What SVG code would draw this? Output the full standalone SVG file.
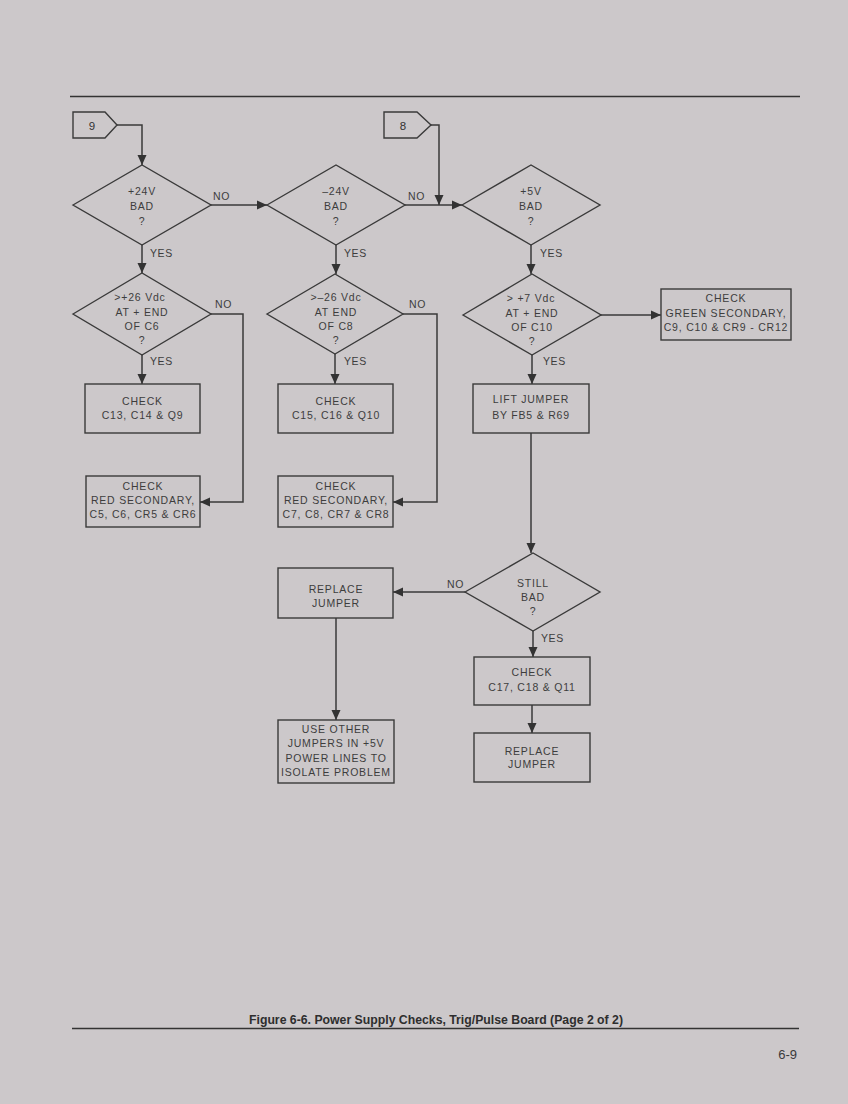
<svg xmlns="http://www.w3.org/2000/svg" width="848" height="1104" viewBox="0 0 848 1104">
<defs>
<marker id="ah" viewBox="0 0 10 10" refX="10" refY="5" markerWidth="10" markerHeight="10" markerUnits="userSpaceOnUse" orient="auto">
<path d="M0,0.5 L10,5 L0,9.5 Z" fill="#333"/>
</marker>
<style>
.bg{fill:#ccc8ca}
.rule{stroke:#333;stroke-width:1.3;fill:none}
.shape{fill:none;stroke:#3a3a3a;stroke-width:1.4}
.con{fill:none;stroke:#3a3a3a;stroke-width:1.5;marker-end:url(#ah)}
.t{font-family:"Liberation Sans",Arial,sans-serif;font-size:10.5px;fill:#3d3d3d;text-anchor:middle;letter-spacing:0.8px}
.n{font-family:"Liberation Sans",Arial,sans-serif;font-size:11.5px;fill:#333;text-anchor:middle}
.lbl{font-family:"Liberation Sans",Arial,sans-serif;font-size:10.5px;fill:#3d3d3d;letter-spacing:0.6px}
.cap{font-family:"Liberation Sans",Arial,sans-serif;font-size:12.5px;font-weight:bold;fill:#2e2e2e}
.pg{font-family:"Liberation Sans",Arial,sans-serif;font-size:13px;fill:#3a3a3a;text-anchor:end}
</style>
</defs>
<rect class="bg" x="0" y="0" width="848" height="1104"/>
<line class="rule" x1="70" y1="96.5" x2="800" y2="96.5"/>
<line class="rule" x1="72" y1="1028.5" x2="799" y2="1028.5"/>

<g id="connectors">
<polyline class="con" points="117,125 142,125 142,165"/>
<line class="con" x1="211" y1="205" x2="267" y2="205"/>
<line class="con" x1="405" y1="205" x2="462" y2="205"/>
<polyline class="con" points="431,125 439,125 439,205"/>
<line class="con" x1="142" y1="245" x2="142" y2="273"/>
<line class="con" x1="336" y1="245" x2="336" y2="274"/>
<line class="con" x1="531" y1="245" x2="531" y2="274"/>
<line class="con" x1="142" y1="355" x2="142" y2="384"/>
<polyline class="con" points="211,314 243,314 243,502 200,502"/>
<line class="con" x1="335" y1="354" x2="335" y2="384"/>
<polyline class="con" points="403,314 437,314 437,502 393,502"/>
<line class="con" x1="601" y1="315" x2="661" y2="315"/>
<line class="con" x1="532" y1="355" x2="532" y2="384"/>
<line class="con" x1="531" y1="433" x2="531" y2="553"/>
<line class="con" x1="465" y1="592" x2="393" y2="592"/>
<line class="con" x1="533" y1="631" x2="533" y2="657"/>
<line class="con" x1="336" y1="618" x2="336" y2="720"/>
<line class="con" x1="532" y1="705" x2="532" y2="733"/>
<text class="lbl" x="213" y="200">NO</text>
<text class="lbl" x="408" y="200">NO</text>
<text class="lbl" x="150" y="257">YES</text>
<text class="lbl" x="344" y="257">YES</text>
<text class="lbl" x="540" y="257">YES</text>
<text class="lbl" x="215" y="308">NO</text>
<text class="lbl" x="409" y="308">NO</text>
<text class="lbl" x="150" y="365">YES</text>
<text class="lbl" x="344" y="365">YES</text>
<text class="lbl" x="543" y="365">YES</text>
<text class="lbl" x="447" y="588">NO</text>
<text class="lbl" x="541" y="642">YES</text>
</g>

<g id="conn9">
<polygon class="shape" points="73,112 105,112 117,125 105,138 73,138"/>
<text class="n" x="92" y="129.5">9</text>
</g>
<g id="conn8">
<polygon class="shape" points="384,112 417,112 431,125 417,138 384,138"/>
<text class="n" x="403" y="129.5">8</text>
</g>

<g id="d1">
<polygon class="shape" points="73,205 142,165 211,205 142,245"/>
<text class="t" x="142" y="194.5">+24V</text>
<text class="t" x="142" y="209.5">BAD</text>
<text class="t" x="142" y="224.5">?</text>
</g>
<g id="d2">
<polygon class="shape" points="267,205 336,165 405,205 336,245"/>
<text class="t" x="336" y="194.5">–24V</text>
<text class="t" x="336" y="209.5">BAD</text>
<text class="t" x="336" y="224.5">?</text>
</g>
<g id="d3">
<polygon class="shape" points="462,205 531,165 600,205 531,245"/>
<text class="t" x="531" y="194.5">+5V</text>
<text class="t" x="531" y="209.5">BAD</text>
<text class="t" x="531" y="224.5">?</text>
</g>
<g id="d4">
<polygon class="shape" points="73,314 142,273 211,314 142,355"/>
<text class="t" x="140" y="300.5">&gt;+26 Vdc</text>
<text class="t" x="142" y="315.5">AT + END</text>
<text class="t" x="142" y="329.5">OF C6</text>
<text class="t" x="142" y="344">?</text>
</g>
<g id="d5">
<polygon class="shape" points="267,314 335,274 403,314 335,354"/>
<text class="t" x="336" y="300.5">&gt;–26 Vdc</text>
<text class="t" x="336" y="315.5">AT END</text>
<text class="t" x="336" y="329.5">OF C8</text>
<text class="t" x="336" y="344">?</text>
</g>
<g id="d6">
<polygon class="shape" points="463,315 532,274 601,315 532,355"/>
<text class="t" x="531" y="302">&gt; +7 Vdc</text>
<text class="t" x="532" y="316.5">AT + END</text>
<text class="t" x="532" y="330.5">OF C10</text>
<text class="t" x="532" y="345">?</text>
</g>
<g id="d7">
<polygon class="shape" points="465,592 533,553 600,592 533,631"/>
<text class="t" x="533" y="587">STILL</text>
<text class="t" x="533" y="601">BAD</text>
<text class="t" x="533" y="615">?</text>
</g>

<g id="b1">
<rect class="shape" x="85" y="384" width="115" height="49"/>
<text class="t" x="142.5" y="404.5">CHECK</text>
<text class="t" x="142.5" y="419">C13, C14 &amp; Q9</text>
</g>
<g id="b2">
<rect class="shape" x="86" y="476" width="114" height="51"/>
<text class="t" x="143" y="490">CHECK</text>
<text class="t" x="143" y="504">RED SECONDARY,</text>
<text class="t" x="143" y="518">C5, C6, CR5 &amp; CR6</text>
</g>
<g id="b3">
<rect class="shape" x="278" y="384" width="115" height="49"/>
<text class="t" x="336" y="404.5">CHECK</text>
<text class="t" x="336" y="419">C15, C16 &amp; Q10</text>
</g>
<g id="b4">
<rect class="shape" x="278" y="476" width="115" height="51"/>
<text class="t" x="336" y="490">CHECK</text>
<text class="t" x="336" y="504">RED SECONDARY,</text>
<text class="t" x="336" y="518">C7, C8, CR7 &amp; CR8</text>
</g>
<g id="b5">
<rect class="shape" x="661" y="289" width="130" height="51"/>
<text class="t" x="726" y="302">CHECK</text>
<text class="t" x="726" y="316.5">GREEN SECONDARY,</text>
<text class="t" x="726" y="330.5">C9, C10 &amp; CR9 - CR12</text>
</g>
<g id="b6">
<rect class="shape" x="473" y="384" width="116" height="49"/>
<text class="t" x="531" y="403">LIFT JUMPER</text>
<text class="t" x="531" y="419">BY FB5 &amp; R69</text>
</g>
<g id="b7">
<rect class="shape" x="278" y="568" width="115" height="50"/>
<text class="t" x="336" y="593">REPLACE</text>
<text class="t" x="336" y="606.5">JUMPER</text>
</g>
<g id="b8">
<rect class="shape" x="278" y="720" width="116" height="63"/>
<text class="t" x="336" y="733">USE OTHER</text>
<text class="t" x="336" y="747">JUMPERS IN +5V</text>
<text class="t" x="336" y="761.5">POWER LINES TO</text>
<text class="t" x="336" y="775.5">ISOLATE PROBLEM</text>
</g>
<g id="b9">
<rect class="shape" x="474" y="657" width="116" height="48"/>
<text class="t" x="532" y="676">CHECK</text>
<text class="t" x="532" y="690.5">C17, C18 &amp; Q11</text>
</g>
<g id="b10">
<rect class="shape" x="474" y="733" width="116" height="49"/>
<text class="t" x="532" y="755">REPLACE</text>
<text class="t" x="532" y="768">JUMPER</text>
</g>

<text class="cap" x="249" y="1024" textLength="374" lengthAdjust="spacingAndGlyphs">Figure 6-6.  Power Supply Checks, Trig/Pulse Board (Page 2 of 2)</text>
<text class="pg" x="797" y="1059">6-9</text>
</svg>
